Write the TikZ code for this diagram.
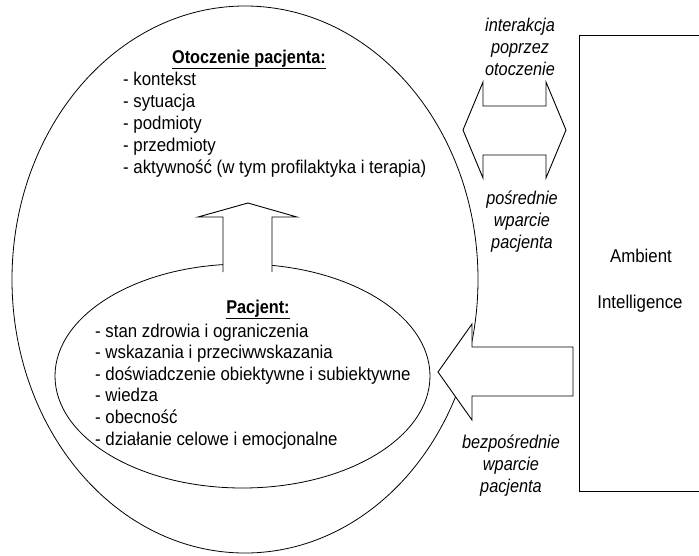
\documentclass[tikz,border=0pt]{standalone}
\usepackage{fontspec}
\setmainfont{Liberation Sans}[FakeStretch=0.88, UprightFeatures={FakeStretch=0.91}]
\usetikzlibrary{shapes.geometric}
\usetikzlibrary{positioning}
\tikzset{
    obszar/.style={ % the two ellipses
        draw,
        ellipse,
        inner sep=0pt,
        outer sep=0pt,
        line width=0.8pt
    },
    blok/.style={ % block arrows, white so they hide what is under them
        draw,
        fill=white,
        line width=0.9pt,
        line join=miter
    },
    tekst/.style={ % every text of the picture
        inner sep=0pt,
        font=\fontsize{18.5}{21.7}\selectfont
    },
    opis/.style={ % italic labels of the arrows (anchor base = last line)
        tekst,
        align=center,
        font=\fontsize{18.5}{21.7}\selectfont\itshape
    }
}

\begin{document}
\begin{tikzpicture}[x=1pt, y=-1pt]
    \useasboundingbox (0,0) rectangle (699,555);

    % ellipses
    \node[obszar, minimum width=466pt, minimum height=547pt] (otoczenie) at (245,279.5) {};
    \node[obszar, minimum width=375pt, minimum height=224pt] (pacjent) at (242.5,376) {};

    % Ambient Intelligence
    \node[draw, line width=0.8pt, inner sep=0pt, minimum width=124pt, minimum height=456pt, anchor=north west] (ai) at (579,35) {};
    \node[tekst, anchor=base] (ambient) at (641,262) {Ambient};
    \node[tekst, anchor=base] (intel) at (640,308) {Intelligence};

    % texts in the outer ellipse
    \node[tekst, anchor=base] (otTytul) at (249,63) {\underline{\textbf{Otoczenie pacjenta:}}};
    \foreach \t [count=\i] in {{kontekst}, {sytuacja}, {podmioty}, {przedmioty}, {aktywność (w tym profilaktyka i terapia)}}
        \node[tekst, anchor=base west] (ot\i) at (123,{85+22*(\i-1)}) {- \t};

    % texts in the inner ellipse
    \node[tekst, anchor=base] (paTytul) at (258,313) {\underline{\textbf{Pacjent:}}};
    \foreach \t [count=\i] in {{stan zdrowia i ograniczenia}, {wskazania i przeciwwskazania}, {doświadczenie obiektywne i subiektywne}, {wiedza}, {obecność}, {działanie celowe i emocjonalne}}
        \node[tekst, anchor=base west] (pa\i) at (95,{337+21.6*(\i-1)}) {- \t};

    % arrows
    \draw[blok] (223,272) -- (223,217) -- (198,217) -- (248,203) -- (297,217) -- (272,217) -- (272,272);
    \draw[blok] (463,130) -- (483,82) -- (483,106) -- (546,106) -- (546,82) -- (566,130)
        -- (546,178) -- (546,155) -- (483,155) -- (483,178) -- cycle;
    \draw[blok] (438,372) -- (472,324) -- (472,347) -- (573,347) -- (573,396) -- (472,396) -- (472,420) -- cycle;

    % arrow labels
    \node[opis, anchor=base] (interakcja) at (520,75) {interakcja\\poprzez\\otoczenie};
    \node[opis, anchor=base] (posrednie) at (522,248) {pośrednie\\wparcie\\pacjenta};
    \node[opis, anchor=base] (bezposrednie) at (511,492) {bezpośrednie\\wparcie\\pacjenta};
\end{tikzpicture}
\end{document}
